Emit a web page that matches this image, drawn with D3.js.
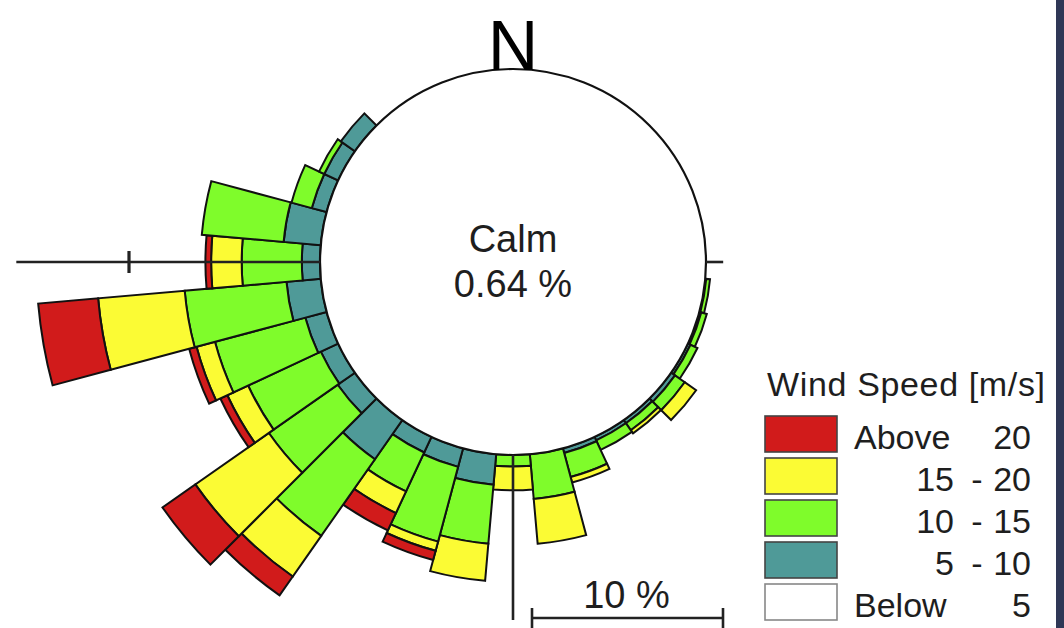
<!DOCTYPE html>
<html>
<head>
<meta charset="utf-8">
<script src="https://cdn.jsdelivr.net/npm/d3@7"></script>
<style>
  body { margin: 0; background: #fff; }
  svg { display: block; }
  text { font-family: "Liberation Sans", Arial, Helvetica, sans-serif; }
</style>
</head>
<body>
<svg id="rose" width="1064" height="628"></svg>
<script>
// Direction sectors (degrees clockwise from north), 10° each
const directions = d3.range(0, 360, 10);

// Frequency (%) per direction for each wind-speed class
//                 0   10  20  30  40  50  60  70  80  90  100  110  120  130   140  150  160   170   180   190  200  210  220  230  240  250   260   270   280   290  300  310 320 330 340 350
const spd5to10  = [0,  0,  0,  0,  0,  0,  0,  0,  0,  0,  0.05,0.1, 0.15,0.25, 0.2, 0.2, 0.25, 0,    0,    1.6, 1.0, 0.9, 2.5, 1.1, 1.0, 1.15, 1.8,  0.95, 1.95, 0.8, 0.8, 0.9, 0, 0, 0, 0];
const spd10to15 = [0,  0,  0,  0,  0,  0,  0,  0,  0,  0,  0.2, 0.3, 0.4, 0.62, 0.45,0.55,1.3,  2.35, 0.6,  3.1, 4.05,2.25,4.9, 4.4, 4.2, 4.9,  5.35, 3.15, 4.3,  1.1, 0.3, 0,   0, 0, 0, 0];
const spd15to20 = [0,  0,  0,  0,  0,  0,  0,  0,  0,  0,  0,   0,   0,   0.73, 0.2, 0,   0.3,  2.35, 1.25, 1.95,0.5, 1.25,2.6, 4.7, 1.2, 1.0,  4.55, 1.6,  0,    0,   0,   0,   0, 0, 0, 0];
const spdAbove20= [0,  0,  0,  0,  0,  0,  0,  0,  0,  0,  0,   0,   0,   0,    0,   0,   0,    0,    0,    0,   0.5, 1.0, 1.2, 2.1, 0.4, 0.4,  3.15, 0.3,  0,    0,   0,   0,   0, 0, 0, 0];

const calmPercent = 0.64;
const speedSeries = [spd5to10, spd10to15, spd15to20, spdAbove20];
const seriesColors = ["#4f9a98", "#7ffc2b", "#fbfb34", "#d11b1b"];

// Legend entries, top to bottom
const legendColors = ["#d11b1b", "#fbfb34", "#7ffc2b", "#4f9a98", "#ffffff"];
const legendLeft   = ["Above", "15", "10", "5", "Below"];
const legendRight  = ["20", "20", "15", "10", "5"];
const legendDash   = [false, true, true, true, false];

const scaleBarValue = 10;

const svg = d3.select("#rose");
const cx = 513, cy = 262;
const calmRadius = 193;
const pxPerPercent = 19.1;
const ink = "#1e1e1e";

const r = d3.scaleLinear()
  .domain([0, 10])
  .range([calmRadius, calmRadius + 10 * pxPerPercent]);

const g = svg.append("g").attr("transform", `translate(${cx},${cy})`);

// Stacked segments per sector
const segments = [];
directions.forEach((dir, i) => {
  let cum = 0;
  speedSeries.forEach((series, s) => {
    const v = series[i];
    if (v > 0) {
      segments.push({ dir, from: cum, to: cum + v, color: seriesColors[s] });
    }
    cum += v;
  });
});

const half = 5 * Math.PI / 180;
const arc = d3.arc()
  .innerRadius(d => r(d.from))
  .outerRadius(d => r(d.to))
  .startAngle(d => d.dir * Math.PI / 180 - half)
  .endAngle(d => d.dir * Math.PI / 180 + half);

g.selectAll("path.seg")
  .data(segments)
  .join("path")
  .attr("class", "seg")
  .attr("d", arc)
  .attr("fill", d => d.color)
  .attr("stroke", "#111")
  .attr("stroke-width", 2)
  .attr("stroke-linejoin", "miter");

// Calm circle
g.append("circle")
  .attr("r", r(0))
  .attr("fill", "#fff")
  .attr("stroke", "#111")
  .attr("stroke-width", 2.2);

// Axis lines radiating out of the calm circle
function polar(deg, rad) {
  const a = deg * Math.PI / 180;
  return [rad * Math.sin(a), -rad * Math.cos(a)];
}
const axes = [
  { dir: 270, to: 15.9 },
  { dir: 90, to: 0.9 },
  { dir: 180, to: 8.64 }
];
axes.forEach(a => {
  const p0 = polar(a.dir, r(0)), p1 = polar(a.dir, r(a.to));
  g.append("line")
    .attr("x1", p0[0]).attr("y1", p0[1])
    .attr("x2", p1[0]).attr("y2", p1[1])
    .attr("stroke", "#222").attr("stroke-width", 2.6);
});
// 10 % tick on the west axis
{
  const p = polar(270, r(10));
  g.append("line")
    .attr("x1", p[0]).attr("y1", p[1] - 11)
    .attr("x2", p[0]).attr("y2", p[1] + 11)
    .attr("stroke", "#222").attr("stroke-width", 3.2);
}

// North label
g.append("text")
  .attr("x", 0).attr("y", -r(0) + 1)
  .attr("text-anchor", "middle")
  .attr("font-size", 70)
  .attr("fill", "#000")
  .text("N");

// Calm label
g.append("text")
  .attr("x", 0).attr("y", -10)
  .attr("text-anchor", "middle")
  .attr("font-size", 38)
  .attr("fill", ink)
  .text("Calm");
g.append("text")
  .attr("x", 0).attr("y", 35)
  .attr("text-anchor", "middle")
  .attr("font-size", 38)
  .attr("fill", ink)
  .text(calmPercent.toFixed(2) + " %");

// Scale bar
const sbX0 = 532, sbY = 618;
const sbLen = r(scaleBarValue) - r(0);
const sb = svg.append("g");
sb.append("line").attr("x1", sbX0).attr("x2", sbX0 + sbLen).attr("y1", sbY).attr("y2", sbY)
  .attr("stroke", "#222").attr("stroke-width", 2.6);
[sbX0, sbX0 + sbLen].forEach(x => {
  sb.append("line").attr("x1", x).attr("x2", x).attr("y1", sbY - 10).attr("y2", sbY + 12)
    .attr("stroke", "#222").attr("stroke-width", 2.6);
});
sb.append("text")
  .attr("x", sbX0 + sbLen / 2 - 1).attr("y", 608)
  .attr("text-anchor", "middle")
  .attr("font-size", 38)
  .attr("fill", ink)
  .text(scaleBarValue + " %");

// Legend
const lg = svg.append("g").attr("transform", "translate(765,0)");
lg.append("text")
  .attr("x", 2).attr("y", 396)
  .attr("font-size", 34)
  .attr("textLength", 278)
  .attr("lengthAdjust", "spacing")
  .attr("fill", ink)
  .text("Wind Speed [m/s]");
legendColors.forEach((c, i) => {
  const y = 416 + i * 42;
  lg.append("rect")
    .attr("x", 0).attr("y", y).attr("width", 72).attr("height", 36)
    .attr("fill", c)
    .attr("stroke", i === 4 ? "#888" : "#444")
    .attr("stroke-width", 1.6);
  const base = y + 33;
  if (legendDash[i]) {
    lg.append("text").attr("x", 189).attr("y", base).attr("text-anchor", "end")
      .attr("font-size", 34).attr("fill", ink).text(legendLeft[i]);
    lg.append("text").attr("x", 212).attr("y", base).attr("text-anchor", "middle")
      .attr("font-size", 34).attr("fill", ink).text("-");
  } else {
    lg.append("text").attr("x", 89).attr("y", base)
      .attr("font-size", 34).attr("fill", ink).text(legendLeft[i]);
  }
  lg.append("text").attr("x", 266).attr("y", base).attr("text-anchor", "end")
    .attr("font-size", 34).attr("fill", ink).text(legendRight[i]);
});

// Frame edge on the right
svg.append("rect").attr("x", 1056).attr("y", 0).attr("width", 8).attr("height", 628)
  .attr("fill", "#2f3756");
</script>
</body>
</html>
